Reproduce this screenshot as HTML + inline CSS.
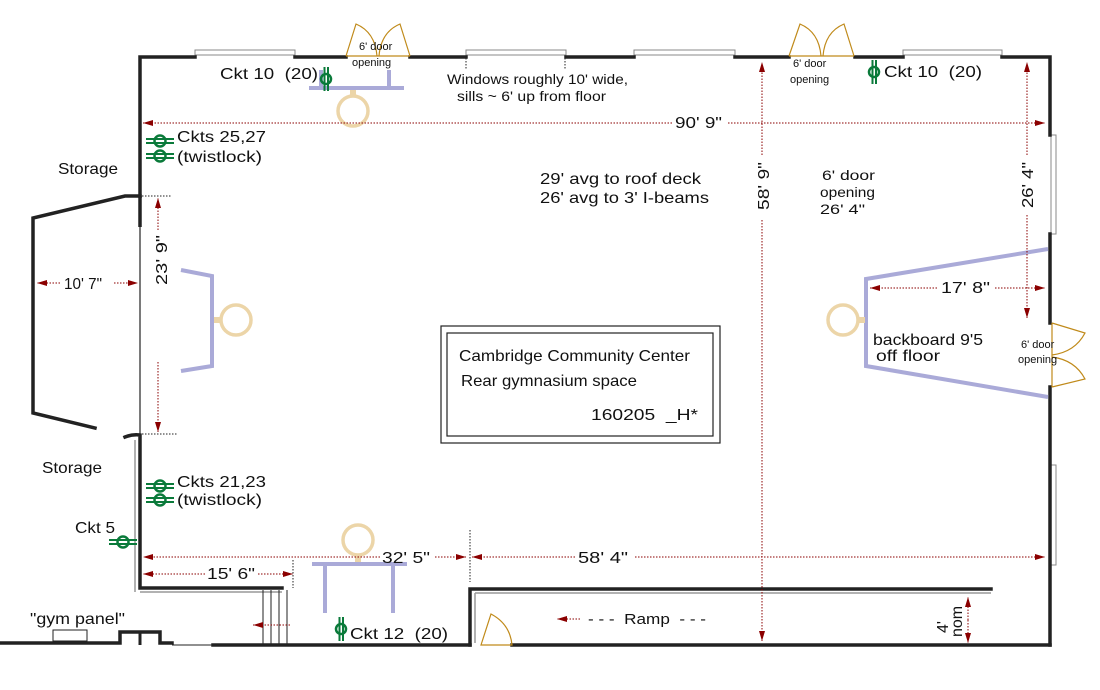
<!DOCTYPE html>
<html><head><meta charset="utf-8"><style>
html,body{margin:0;padding:0;background:#fff;}
svg{display:block;font-family:"Liberation Sans",sans-serif;}
text{white-space:pre;}
</style></head><body>
<svg width="1100" height="690" viewBox="0 0 1100 690" xmlns="http://www.w3.org/2000/svg">
<defs>
<marker id="ar" viewBox="0 0 10 6" refX="10" refY="3" markerWidth="10" markerHeight="6" orient="auto" markerUnits="userSpaceOnUse">
<path d="M0,0 L10,3 L0,6 Z" fill="#8b0000"/></marker>
<g id="ckt1"><circle cx="0" cy="0" r="5" fill="none" stroke="#0a7a3a" stroke-width="2.5"/><line x1="-1.5" y1="-12" x2="-1.5" y2="12" stroke="#0a7a3a" stroke-width="2"/><line x1="2" y1="-12" x2="2" y2="12" stroke="#0a7a3a" stroke-width="2"/></g>
<g id="ckth"><circle cx="0" cy="0" r="5.5" fill="none" stroke="#0a7a3a" stroke-width="2.5"/><line x1="-14" y1="-2" x2="14" y2="-2" stroke="#0a7a3a" stroke-width="2"/><line x1="-14" y1="2" x2="14" y2="2" stroke="#0a7a3a" stroke-width="2"/></g>
</defs>

<g fill="none" stroke="#888" stroke-width="1">
<rect x="195" y="50" width="100" height="5"/><rect x="466" y="50" width="100" height="5"/>
<rect x="634" y="50" width="101" height="5"/><rect x="903" y="50" width="99" height="5"/>
<rect x="1051" y="135" width="5" height="99"/><rect x="1051" y="465" width="5" height="100"/>
</g>
<g stroke="#222" stroke-width="3.5" fill="none" stroke-linecap="square">
<path d="M140,196 L140,57 L195,57 M295,57 L346,57 M410,57 L466,57 M566,57 L634,57 M735,57 L789,57 M855,57 L903,57 M1002,57 L1050,57 L1050,135"/>
<path d="M1050,234 L1050,323 M1050,387 L1050,645"/>
<path d="M140,196 L125,196 L33,218 L33,413 L95,428"/>
<path d="M125,437 Q132,434 140,435 L140,588 L282,588"/>
<path d="M0,643 L120,643 M120,643 L120,632 L160,632 L160,643 L172,643 M213,645 L470,645 M512,645 L1050,645"/>
<path d="M470,645 L470,589 L991,589"/>
</g>
<line x1="140" y1="196" x2="140" y2="435" stroke="#222" stroke-width="1.2"/>
<line x1="140" y1="196" x2="140" y2="227" stroke="#222" stroke-width="3.5"/>
<line x1="135" y1="440" x2="135" y2="592" stroke="#999" stroke-width="1.5"/>
<line x1="140" y1="592" x2="282" y2="592" stroke="#999" stroke-width="1.5"/>
<line x1="475" y1="643" x2="475" y2="593" stroke="#999" stroke-width="1.5"/>
<line x1="475" y1="593" x2="991" y2="593" stroke="#999" stroke-width="1.5"/>
<line x1="172" y1="645" x2="213" y2="645" stroke="#222" stroke-width="1"/>
<line x1="140" y1="632" x2="140" y2="645" stroke="#222" stroke-width="3"/>
<g stroke="#222" stroke-width="1"><line x1="263" y1="590" x2="263" y2="645"/><line x1="271" y1="590" x2="271" y2="645"/><line x1="279" y1="590" x2="279" y2="645"/><line x1="287" y1="590" x2="287" y2="645"/></g>
<rect x="53" y="630" width="34" height="11" fill="#fff" stroke="#222" stroke-width="1"/>

<g fill="none" stroke="#c08a1a" stroke-width="1.2">
<path d="M346,56 L356,24 Q375,32 377,56 M379,56 Q381,32 400,24 L410,56 M346,56 L410,56"/>
<path d="M789,56 L800,24 Q819,32 821,56 M823,56 Q825,32 844,24 L854,56 M789,56 L854,56"/>
<path d="M1052,323 L1085,333 Q1075,352 1052,355 M1052,357 Q1075,360 1085,379 L1052,387 M1052,323 L1052,387"/>
<path d="M481,645 L491,614 Q510,624 512,645 Z"/>
</g>

<g fill="none" stroke="#aaaad8" stroke-width="4">
<path d="M309,88 L404,88 M321,70 L321,88 M389,70 L389,88"/>
<path d="M312,564 L407,564 M325,564 L325,613 M393,564 L393,613"/>
<path d="M181,270 L212,276 L212,366 L181,371"/>
<path d="M1048,249 L866,279 L866,366 L1048,397"/>
</g>
<g fill="none" stroke="#ecd5a8" stroke-width="3.5">
<circle cx="353" cy="111" r="15"/><line x1="353" y1="90" x2="353" y2="96" stroke-width="6"/>
<circle cx="358" cy="540" r="15"/><line x1="358" y1="555" x2="358" y2="562" stroke-width="6"/>
<circle cx="236" cy="320" r="15"/><line x1="214" y1="320" x2="221" y2="320" stroke-width="6"/>
<circle cx="843" cy="320" r="15"/><line x1="858" y1="320" x2="865" y2="320" stroke-width="6"/>
</g>

<g stroke="#8b0000" stroke-width="1" stroke-dasharray="1.5,1.5" fill="none">
<line x1="672" y1="123" x2="143" y2="123" marker-end="url(#ar)"/>
<line x1="728" y1="123" x2="1045" y2="123" marker-end="url(#ar)"/>
<line x1="762" y1="155" x2="762" y2="62" marker-end="url(#ar)"/>
<line x1="762" y1="220" x2="762" y2="641" marker-end="url(#ar)"/>
<line x1="1027" y1="155" x2="1027" y2="62" marker-end="url(#ar)"/>
<line x1="1027" y1="215" x2="1027" y2="318" marker-end="url(#ar)"/>
<line x1="158" y1="230" x2="158" y2="198" marker-end="url(#ar)"/>
<line x1="158" y1="362" x2="158" y2="432" marker-end="url(#ar)"/>
<line x1="60" y1="283" x2="37" y2="283" marker-end="url(#ar)"/>
<line x1="114" y1="283" x2="138" y2="283" marker-end="url(#ar)"/>
<line x1="937" y1="288" x2="870" y2="288" marker-end="url(#ar)"/>
<line x1="995" y1="288" x2="1045" y2="288" marker-end="url(#ar)"/>
<line x1="380" y1="557" x2="143" y2="557" marker-end="url(#ar)"/>
<line x1="435" y1="557" x2="466" y2="557" marker-end="url(#ar)"/>
<line x1="575" y1="557" x2="472" y2="557" marker-end="url(#ar)"/>
<line x1="635" y1="557" x2="1045" y2="557" marker-end="url(#ar)"/>
<line x1="205" y1="574" x2="143" y2="574" marker-end="url(#ar)"/>
<line x1="258" y1="574" x2="293" y2="574" marker-end="url(#ar)"/>
<line x1="968" y1="620" x2="968" y2="597" marker-end="url(#ar)"/>
<line x1="968" y1="620" x2="968" y2="643" marker-end="url(#ar)"/>
<line x1="580" y1="619" x2="557" y2="619" marker-end="url(#ar)"/>
<line x1="290" y1="625" x2="253" y2="625" marker-end="url(#ar)"/>
</g>
<g stroke="#222" stroke-width="1" stroke-dasharray="1.5,1.5">
<line x1="142" y1="196" x2="172" y2="196"/><line x1="142" y1="434" x2="178" y2="434"/>
<line x1="470" y1="530" x2="470" y2="582"/><line x1="293" y1="560" x2="293" y2="588"/>
<line x1="466" y1="58" x2="466" y2="70"/><line x1="565" y1="58" x2="565" y2="70"/>
</g>

<use href="#ckt1" x="326" y="79"/>
<use href="#ckt1" x="874" y="72"/>
<use href="#ckt1" x="341" y="629"/>
<use href="#ckth" x="160" y="141"/><use href="#ckth" x="160" y="156"/>
<use href="#ckth" x="160" y="486"/><use href="#ckth" x="160" y="500"/>
<use href="#ckth" x="123" y="542"/>

<rect x="441" y="326" width="279" height="117" fill="none" stroke="#222" stroke-width="1.2"/>
<rect x="447" y="333" width="266" height="103" fill="none" stroke="#222" stroke-width="1.2"/>

<g font-size="16" fill="#111" lengthAdjust="spacingAndGlyphs">
<text x="220" y="79" textLength="98" lengthAdjust="spacingAndGlyphs">Ckt 10  (20)</text>
<text x="884" y="77" textLength="98" lengthAdjust="spacingAndGlyphs">Ckt 10  (20)</text>
<text x="177" y="142" textLength="89" lengthAdjust="spacingAndGlyphs">Ckts 25,27</text>
<text x="177" y="162" textLength="85" lengthAdjust="spacingAndGlyphs">(twistlock)</text>
<text x="177" y="487" textLength="89" lengthAdjust="spacingAndGlyphs">Ckts 21,23</text>
<text x="177" y="505" textLength="85" lengthAdjust="spacingAndGlyphs">(twistlock)</text>
<text x="75" y="533" textLength="40" lengthAdjust="spacingAndGlyphs">Ckt 5</text>
<text x="350" y="639" textLength="98" lengthAdjust="spacingAndGlyphs">Ckt 12  (20)</text>
<text x="58" y="174" textLength="60" lengthAdjust="spacingAndGlyphs">Storage</text>
<text x="42" y="473" textLength="60" lengthAdjust="spacingAndGlyphs">Storage</text>
<text x="30" y="624" textLength="95" lengthAdjust="spacingAndGlyphs">"gym panel"</text>
<text x="64" y="289" textLength="38" lengthAdjust="spacingAndGlyphs">10' 7"</text>
<text x="675" y="128" textLength="47" lengthAdjust="spacingAndGlyphs">90' 9"</text>
<text x="540" y="184" textLength="161" lengthAdjust="spacingAndGlyphs">29' avg to roof deck</text>
<text x="540" y="203" textLength="169" lengthAdjust="spacingAndGlyphs">26' avg to 3' I-beams</text>
<text x="822" y="180" font-size="14" textLength="53" lengthAdjust="spacingAndGlyphs">6' door</text>
<text x="820" y="197" font-size="14" textLength="55" lengthAdjust="spacingAndGlyphs">opening</text>
<text x="820" y="214" font-size="14" textLength="45" lengthAdjust="spacingAndGlyphs">26' 4"</text>
<text x="941" y="293" textLength="49" lengthAdjust="spacingAndGlyphs">17' 8"</text>
<text x="873" y="345" textLength="110" lengthAdjust="spacingAndGlyphs">backboard 9'5</text>
<text x="876" y="361" textLength="64" lengthAdjust="spacingAndGlyphs">off floor</text>
<text x="382" y="563" textLength="48" lengthAdjust="spacingAndGlyphs">32' 5"</text>
<text x="578" y="563" textLength="50" lengthAdjust="spacingAndGlyphs">58' 4"</text>
<text x="207" y="579" textLength="48" lengthAdjust="spacingAndGlyphs">15' 6"</text>
<text x="588" y="624" font-size="15" textLength="118" lengthAdjust="spacingAndGlyphs">- - -  Ramp  - - -</text>
<text x="459" y="361" textLength="231" lengthAdjust="spacingAndGlyphs">Cambridge Community Center</text>
<text x="461" y="386" textLength="176" lengthAdjust="spacingAndGlyphs">Rear gymnasium space</text>
<text x="591" y="420" textLength="107" lengthAdjust="spacingAndGlyphs">160205  _H*</text>
<text x="447" y="84" font-size="14" textLength="181" lengthAdjust="spacingAndGlyphs">Windows roughly 10' wide,</text>
<text x="457" y="101" font-size="14" textLength="149" lengthAdjust="spacingAndGlyphs">sills ~ 6' up from floor</text>
<text x="359" y="50" font-size="11">6' door</text>
<text x="352" y="66" font-size="11">opening</text>
<text x="793" y="67" font-size="11">6' door</text>
<text x="790" y="83" font-size="11">opening</text>
<text x="1021" y="348" font-size="11">6' door</text>
<text x="1018" y="363" font-size="11">opening</text>
<text transform="translate(167,285) rotate(-90)" textLength="50" lengthAdjust="spacingAndGlyphs">23' 9"</text>
<text transform="translate(769,210) rotate(-90)" textLength="48" lengthAdjust="spacingAndGlyphs">58' 9"</text>
<text transform="translate(1033,208) rotate(-90)" textLength="46" lengthAdjust="spacingAndGlyphs">26' 4"</text>
<text transform="translate(948,633) rotate(-90)">4'</text>
<text transform="translate(962,637) rotate(-90)">nom</text>
</g>
</svg>
</body></html>
